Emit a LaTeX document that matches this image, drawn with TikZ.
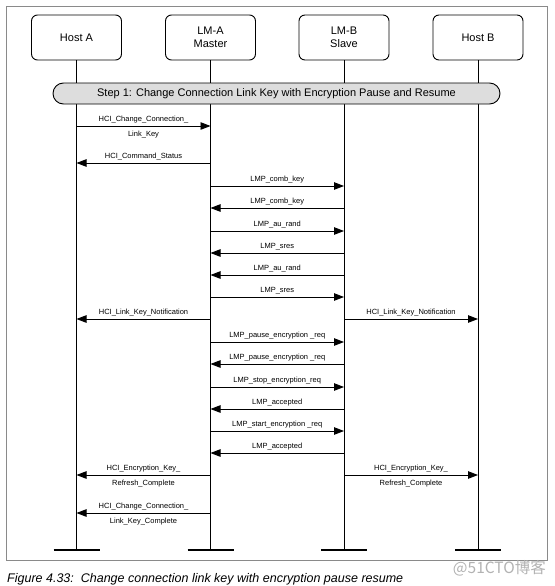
\documentclass[tikz,border=0pt]{standalone}
\usepackage{fontspec}
\setmainfont{Liberation Sans}
\newfontfamily\cjk{Noto Sans CJK SC}
\usetikzlibrary{arrows.meta,positioning}
\definecolor{framegray}{HTML}{8A8A8A}
\definecolor{barfill}{HTML}{DDDDDD}
\tikzset{>={Triangle[length=10pt,width=7.5pt]},
  every node/.style={font=\fontsize{11}{13}\selectfont},
  actor/.style={draw,rounded corners=6pt,line width=.9pt,minimum width=90pt,minimum height=45pt,align=center},
  life/.style={line width=.9pt},
  endbar/.style={line width=2.8pt},
  stepbar/.style={draw,fill=barfill,line width=.9pt,rounded corners=10.5pt,minimum width=447pt,minimum height=21pt},
  msg/.style={->,line width=.9pt},
  lbl/.style={font=\fontsize{7.5}{9}\selectfont,inner sep=0pt}}
\newcommand{\msg}[4]{\draw[msg](#1|-0,#3)--(#2|-0,#3)node[lbl,midway,yshift=6pt]{#4};}
\newcommand{\msgtwo}[5]{\draw[msg](#1|-0,#3)--(#2|-0,#3)node[lbl,midway,yshift=6pt]{#4}node[lbl,midway,yshift=-9pt]{#5};}

\begin{document}
\begin{tikzpicture}[x=1pt,y=-1pt]
\useasboundingbox (0,0) rectangle (554,586);
\draw[framegray,line width=.8pt](6,6)rectangle(547,560);
% participants
\node[actor](hostA)at(76.5,37.5){Host A};
\node[actor](lmA)at(210.5,37.5){LM-A\\Master};
\node[actor](lmB)at(344,37.5){LM-B\\Slave};
\node[actor](hostB)at(478,37.5){Host B};
\foreach \n in {hostA,lmA,lmB,hostB}{
  \coordinate(\n-end)at(\n|-0,550);
  \draw[life](\n.south)--(\n-end);
  \draw[endbar]([xshift=-23pt]\n-end)--([xshift=23pt]\n-end);}
\node[stepbar](step)at(276.5,93.5){Step 1: Change Connection Link Key with Encryption Pause and Resume};
% messages
\msgtwo{hostA}{lmA}{126}{HCI\_Change\_Connection\_}{Link\_Key}
\foreach \a/\b/\y/\t in {lmA/hostA/163/HCI\_Command\_Status,
  lmA/lmB/186/LMP\_comb\_key,lmB/lmA/208/LMP\_comb\_key,
  lmA/lmB/231/LMP\_au\_rand,lmB/lmA/253/LMP\_sres,
  lmB/lmA/275/LMP\_au\_rand,lmA/lmB/297/LMP\_sres,
  lmA/hostA/319/HCI\_Link\_Key\_Notification,lmB/hostB/319/HCI\_Link\_Key\_Notification,
  lmA/lmB/342/LMP\_pause\_encryption \_req,lmB/lmA/364/LMP\_pause\_encryption \_req,
  lmA/lmB/387/LMP\_stop\_encryption\_req,lmB/lmA/409/LMP\_accepted,
  lmA/lmB/431/LMP\_start\_encryption \_req,lmB/lmA/453/LMP\_accepted}
  {\msg{\a}{\b}{\y}{\t}}
\msgtwo{lmA}{hostA}{475}{HCI\_Encryption\_Key\_}{Refresh\_Complete}
\msgtwo{lmB}{hostB}{475}{HCI\_Encryption\_Key\_}{Refresh\_Complete}
\msgtwo{lmA}{hostA}{513}{HCI\_Change\_Connection\_}{Link\_Key\_Complete}
% caption
\node[anchor=base west,inner sep=0pt,font=\fontsize{12.5}{14}\selectfont\itshape](cap)at(7,582){Figure 4.33:\ \ Change connection link key with encryption pause resume};
\node[anchor=base east,inner sep=0pt,text=gray!60,font=\fontsize{15.5}{17}\selectfont\cjk](mark)at(546,573){@51CTO博客};
\end{tikzpicture}
\end{document}
